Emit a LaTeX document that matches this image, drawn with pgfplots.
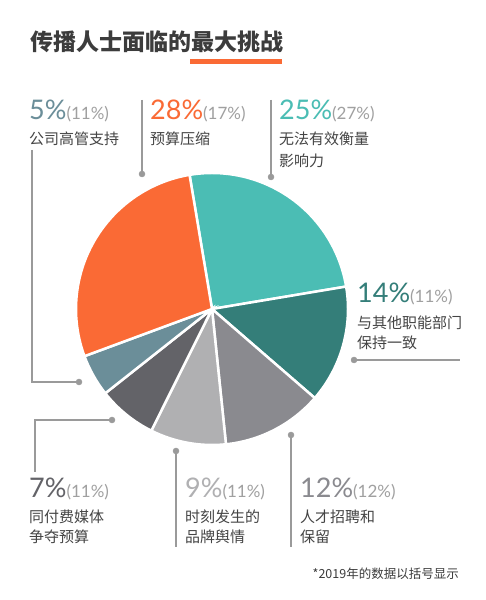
\documentclass[border=0pt]{standalone}
\usepackage{pgfplots}
\pgfplotsset{compat=1.18}
\usepackage{fontspec}
\setmainfont{Lato}
\newfontfamily\cjk{Noto Sans CJK SC}
\definecolor{cTeal}{HTML}{4BBDB4}
\definecolor{cDTeal}{HTML}{347E79}
\definecolor{cGray}{HTML}{8A8A8F}
\definecolor{cLGray}{HTML}{B0B0B2}
\definecolor{cDGray}{HTML}{636368}
\definecolor{cBlue}{HTML}{6B8E99}
\definecolor{cOrange}{HTML}{FA6A35}
\definecolor{cLine}{HTML}{9A9A9A}
\definecolor{cText}{HTML}{444444}
\definecolor{cParen}{HTML}{A0A0A0}
\definecolor{cTitle}{HTML}{3C3C3C}
\newcommand\bignum[2]{{\color{#1}\fontsize{27bp}{30bp}\selectfont #2}}
\newcommand\paren[1]{{\color{cParen}\fontsize{17bp}{20bp}\selectfont (#1\%)}}
\newcommand\zh[1]{{\cjk\color{cText}\fontsize{15bp}{18bp}\selectfont #1}}
\begin{document}
\begin{tikzpicture}
\begin{axis}[hide axis, scale only axis, width=485bp, height=600bp,
  xmin=0, xmax=485, ymin=0, ymax=600, clip=false]
\fill[white] (axis cs:0,0) rectangle (axis cs:485,600);
% title
\node[anchor=west, inner sep=0] at (axis cs:30,558) {\cjk\bfseries\color{cTitle}\fontsize{23bp}{26bp}\selectfont 传播人士面临的最大挑战};
\fill[cOrange] (axis cs:190,536) rectangle (axis cs:282,541);
% pie (values in percent, start angle 99.5, clockwise)
\fill[cTeal, draw=white, line width=2.5bp] (axis cs:212,291) -- ++(99.5:136bp) arc[start angle=99.5, delta angle={-3.6*25}, radius=136bp] -- cycle;
\fill[cDTeal, draw=white, line width=2.5bp] (axis cs:212,291) -- ++({99.5-3.6*25}:136bp) arc[start angle={99.5-3.6*25}, delta angle={-3.6*14}, radius=136bp] -- cycle;
\fill[cGray, draw=white, line width=2.5bp] (axis cs:212,291) -- ++({99.5-3.6*39}:136bp) arc[start angle={99.5-3.6*39}, delta angle={-3.6*12}, radius=136bp] -- cycle;
\fill[cLGray, draw=white, line width=2.5bp] (axis cs:212,291) -- ++({99.5-3.6*51}:136bp) arc[start angle={99.5-3.6*51}, delta angle={-3.6*9}, radius=136bp] -- cycle;
\fill[cDGray, draw=white, line width=2.5bp] (axis cs:212,291) -- ++({99.5-3.6*60}:136bp) arc[start angle={99.5-3.6*60}, delta angle={-3.6*7}, radius=136bp] -- cycle;
\fill[cBlue, draw=white, line width=2.5bp] (axis cs:212,291) -- ++({99.5-3.6*67}:136bp) arc[start angle={99.5-3.6*67}, delta angle={-3.6*5}, radius=136bp] -- cycle;
\fill[cOrange, draw=white, line width=2.5bp] (axis cs:212,291) -- ++({99.5-3.6*72}:136bp) arc[start angle={99.5-3.6*72}, delta angle={-3.6*28}, radius=136bp] -- cycle;
% leader lines
\addplot[cLine, line width=1.1bp, mark=none] coordinates {(32,450) (32,218) (79,218)};
\addplot[cLine, line width=1.1bp, mark=none] coordinates {(142,500) (142,426)};
\addplot[cLine, line width=1.1bp, mark=none] coordinates {(271,500) (271,423)};
\addplot[cLine, line width=1.1bp, mark=none] coordinates {(354,240) (460,240)};
\addplot[cLine, line width=1.1bp, mark=none] coordinates {(112,180) (35,180) (35,128)};
\addplot[cLine, line width=1.1bp, mark=none] coordinates {(176,149) (176,53)};
\addplot[cLine, line width=1.1bp, mark=none] coordinates {(291,165) (291,53)};
\addplot[only marks, mark=*, mark size=3bp, color=cLine] coordinates {(79,218) (142,426) (271,423) (354,240) (112,180) (176,149) (291,165)};
% labels top
\node[anchor=base west, inner sep=0] at (axis cs:29,480) {\bignum{cBlue}{5\%}\paren{11}};
\node[anchor=west, inner sep=0] at (axis cs:29,461) {\zh{公司高管支持}};
\node[anchor=base west, inner sep=0] at (axis cs:150,480) {\bignum{cOrange}{28\%}\paren{17}};
\node[anchor=west, inner sep=0] at (axis cs:150,461) {\zh{预算压缩}};
\node[anchor=base west, inner sep=0] at (axis cs:279,480) {\bignum{cTeal}{25\%}\paren{27}};
\node[anchor=west, inner sep=0] at (axis cs:279,461) {\zh{无法有效衡量}};
\node[anchor=west, inner sep=0] at (axis cs:279,439) {\zh{影响力}};
% right
\node[anchor=base west, inner sep=0] at (axis cs:357,297) {\bignum{cDTeal}{14\%}\paren{11}};
\node[anchor=west, inner sep=0] at (axis cs:357,277) {\zh{与其他职能部门}};
\node[anchor=west, inner sep=0] at (axis cs:357,257) {\zh{保持一致}};
% bottom
\node[anchor=base west, inner sep=0] at (axis cs:29,102) {\bignum{cDGray}{7\%}\paren{11}};
\node[anchor=west, inner sep=0] at (axis cs:29,83) {\zh{同付费媒体}};
\node[anchor=west, inner sep=0] at (axis cs:29,63) {\zh{争夺预算}};
\node[anchor=base west, inner sep=0] at (axis cs:185,102) {\bignum{cLGray}{9\%}\paren{11}};
\node[anchor=west, inner sep=0] at (axis cs:185,83) {\zh{时刻发生的}};
\node[anchor=west, inner sep=0] at (axis cs:185,63) {\zh{品牌舆情}};
\node[anchor=base west, inner sep=0] at (axis cs:300,102) {\bignum{cGray}{12\%}\paren{12}};
\node[anchor=west, inner sep=0] at (axis cs:300,83) {\zh{人才招聘和}};
\node[anchor=west, inner sep=0] at (axis cs:300,63) {\zh{保留}};
% footnote
\node[anchor=east, inner sep=0] at (axis cs:459,26) {\cjk\color{cTitle}\fontsize{12.5bp}{15bp}\selectfont *2019年的数据以括号显示};
\end{axis}
\end{tikzpicture}
\end{document}
